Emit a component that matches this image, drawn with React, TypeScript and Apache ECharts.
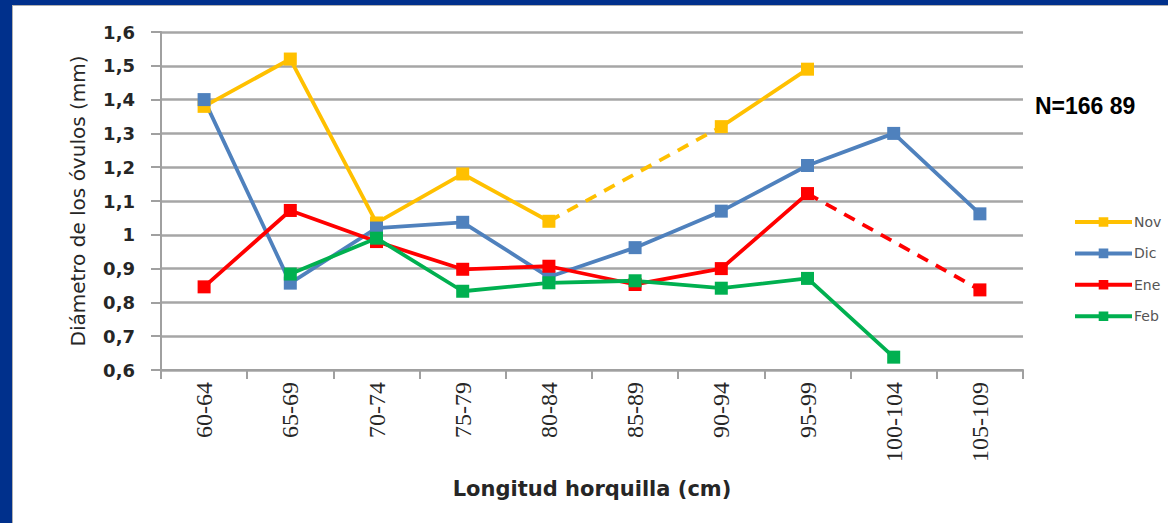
import React, { useEffect, useRef } from "react";
import * as echarts from "echarts";

const categories = ["60-64", "65-69", "70-74", "75-79", "80-84", "85-89", "90-94", "95-99", "100-104", "105-109"];
const nov: (number | null)[] = [1.38, 1.52, 1.035, 1.18, 1.04, null, 1.32, 1.49, null, null];
const dic: (number | null)[] = [1.4, 0.857, 1.02, 1.037, 0.875, 0.962, 1.07, 1.205, 1.3, 1.062];
const ene: (number | null)[] = [0.846, 1.072, 0.98, 0.898, 0.907, 0.853, 0.9, 1.122, null, 0.837];
const feb: (number | null)[] = [null, 0.884, 0.99, 0.833, 0.858, 0.864, 0.842, 0.871, 0.638, null];
const seriesNames = ["Nov", "Dic", "Ene", "Feb"];
const seriesColors = ["#FFC000", "#4F81BD", "#FF0000", "#00B050"];
const seriesValues = [nov, dic, ene, feb];
const yTicks = { min: 0.6, max: 1.6, interval: 0.1 };

function bridges(values: (number | null)[]) {
  const out: (number | null)[][] = [];
  let last = -1;
  for (let i = 0; i < values.length; i++) {
    if (values[i] != null) {
      if (last >= 0 && i - last > 1) {
        const arr: (number | null)[] = values.map(() => null);
        arr[last] = values[last];
        arr[i] = values[i];
        out.push(arr);
      }
      last = i;
    }
  }
  return out;
}

export default function App() {
  const ref = useRef<HTMLDivElement>(null);
  useEffect(() => {
    if (!ref.current) return;
    const chart = echarts.init(ref.current, undefined, { renderer: "svg" });
    const series: any[] = [];
    seriesValues.forEach((vals, k) => {
      bridges(vals).forEach((b, j) => {
        series.push({
          name: seriesNames[k] + "_gap" + j,
          type: "line",
          data: b,
          connectNulls: true,
          showSymbol: false,
          symbol: "none",
          lineStyle: { color: seriesColors[k], width: 3.8, type: [12, 9] },
          z: 1,
        });
      });
    });
    seriesValues.forEach((vals, k) => {
      series.push({
        name: seriesNames[k],
        type: "line",
        data: vals,
        connectNulls: false,
        symbol: "rect",
        symbolSize: 13,
        itemStyle: { color: seriesColors[k] },
        lineStyle: { color: seriesColors[k], width: 3.8 },
        z: 2,
      });
    });
    chart.setOption({
      animation: false,
      backgroundColor: "#ffffff",
      textStyle: { fontFamily: "DejaVu Sans, sans-serif" },
      grid: { left: 161, top: 32, right: 145, bottom: 153 },
      graphic: [
        { type: "rect", shape: { x: 0, y: 0, width: 1168, height: 5 }, style: { fill: "#00308C" } },
        { type: "rect", shape: { x: 0, y: 0, width: 12, height: 523 }, style: { fill: "#00308C" } },
        { type: "line", shape: { x1: 12.5, y1: 5, x2: 12.5, y2: 523 }, style: { stroke: "#b0b0b0", lineWidth: 1 } },
        { type: "line", shape: { x1: 12, y1: 5.5, x2: 1168, y2: 5.5 }, style: { stroke: "#b0b0b0", lineWidth: 1 } },
        {
          type: "text",
          left: 1035,
          top: 94,
          style: { text: "N=166 89", font: "bold 23px 'Liberation Sans', Arial, sans-serif", fill: "#000" },
        },
      ],
      legend: {
        data: seriesNames,
        orient: "vertical",
        left: 1068,
        top: 210,
        itemWidth: 57,
        itemHeight: 12,
        itemGap: 17.4,
        lineStyle: { width: 4 },
        textStyle: { fontSize: 14, lineHeight: 14, color: "#555555", fontFamily: "DejaVu Sans", padding: [0, 0, 0, -3] },
      },
      xAxis: {
        type: "category",
        data: categories,
        boundaryGap: true,
        name: "Longitud horquilla (cm)",
        nameLocation: "middle",
        nameGap: 108,
        nameTextStyle: { fontSize: 21, color: "#262626", fontWeight: "bold", fontFamily: "DejaVu Sans" },
        axisLine: { lineStyle: { color: "#a0a0a0", width: 2 } },
        axisTick: { show: true, length: 9, lineStyle: { color: "#a0a0a0", width: 2 } },
        axisLabel: { rotate: 90, fontSize: 24, color: "#262626", margin: 12, fontFamily: "Liberation Sans Narrow" },
      },
      yAxis: {
        type: "value",
        min: yTicks.min,
        max: yTicks.max,
        interval: yTicks.interval,
        name: "Diámetro de los óvulos (mm)",
        nameLocation: "middle",
        nameGap: 73,
        nameTextStyle: { fontSize: 20, color: "#262626", fontFamily: "DejaVu Sans" },
        axisLine: { show: true, lineStyle: { color: "#a0a0a0", width: 2 } },
        axisTick: { show: true, length: 10, lineStyle: { color: "#a0a0a0", width: 2 } },
        splitLine: { lineStyle: { color: "#a6a6a6", width: 2.5 } },
        axisLabel: {
          fontSize: 18,
          color: "#262626",
          fontWeight: "bold",
          fontFamily: "DejaVu Sans",
          margin: 26,
          formatter: (v: number) => String(Number(v.toFixed(1))).replace(".", ","),
        },
      },
      series,
    });
    return () => chart.dispose();
  }, []);
  return <div ref={ref} style={{ position: "fixed", left: 0, top: 0, width: 1168, height: 523 }} />;
}
